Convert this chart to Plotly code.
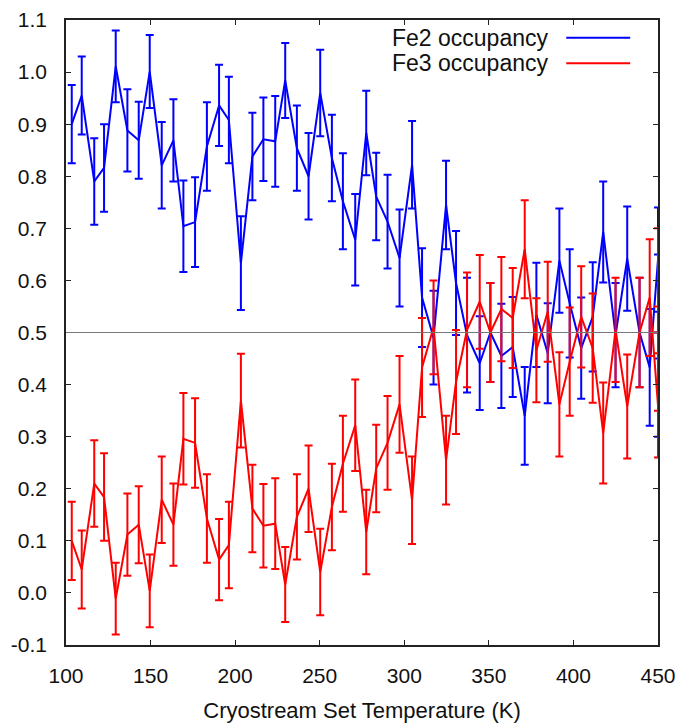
import plotly.graph_objects as go

# Temperature (K)
temperature = [103.4, 109.3, 116.7, 122.5, 129.4, 136.3, 143.0, 149.5, 156.6, 163.5,
               169.4, 176.3, 183.3, 190.5, 196.3, 203.4, 210.2, 216.7, 223.7, 229.6,
               236.5, 243.4, 250.3, 257.2, 263.7, 271.0, 277.5, 283.4, 290.1, 297.2,
               304.6, 310.5, 317.3, 324.7, 330.6, 337.1, 344.6, 350.9, 357.4, 364.1,
               371.2, 378.1, 384.8, 391.7, 397.8, 404.6, 411.4, 417.6, 424.9, 431.8,
               439.1, 445.1, 450.0, 450.0, 450.0]

fe2_occ = [0.900, 0.955, 0.790, 0.816, 1.011, 0.888, 0.869, 1.001, 0.821, 0.869,
           0.704, 0.712, 0.857, 0.936, 0.908, 0.633, 0.838, 0.871, 0.867, 0.984,
           0.854, 0.800, 0.960, 0.835, 0.752, 0.678, 0.883, 0.761, 0.713, 0.643,
           0.822, 0.567, 0.490, 0.745, 0.595, 0.495, 0.441, 0.500, 0.455, 0.472,
           0.340, 0.534, 0.460, 0.638, 0.556, 0.470, 0.530, 0.693, 0.495, 0.642,
           0.500, 0.433, 0.640, 0.400, 0.550]

fe3_occ = [0.100, 0.045, 0.210, 0.184, -0.011, 0.112, 0.131, 0.004, 0.179, 0.131,
           0.296, 0.288, 0.143, 0.064, 0.092, 0.369, 0.162, 0.129, 0.133, 0.016,
           0.146, 0.200, 0.040, 0.165, 0.248, 0.322, 0.117, 0.239, 0.288, 0.362,
           0.178, 0.433, 0.510, 0.255, 0.405, 0.505, 0.559, 0.500, 0.545, 0.528,
           0.660, 0.466, 0.540, 0.362, 0.444, 0.530, 0.470, 0.307, 0.505, 0.358,
           0.500, 0.567, 0.360, 0.600, 0.450]

occ_err = [0.075, 0.075, 0.083, 0.084, 0.069, 0.079, 0.074, 0.070, 0.083, 0.079,
           0.088, 0.086, 0.085, 0.078, 0.083, 0.090, 0.084, 0.080, 0.087, 0.072,
           0.082, 0.083, 0.083, 0.083, 0.092, 0.088, 0.081, 0.084, 0.090, 0.093,
           0.084, 0.095, 0.090, 0.085, 0.100, 0.110, 0.090, 0.095, 0.100, 0.096,
           0.094, 0.100, 0.096, 0.100, 0.104, 0.097, 0.105, 0.097, 0.100, 0.100,
           0.105, 0.112, 0.100, 0.100, 0.100]

x_ticks = [100, 150, 200, 250, 300, 350, 400, 450]
y_ticks = [-0.1, 0.0, 0.1, 0.2, 0.3, 0.4, 0.5, 0.6, 0.7, 0.8, 0.9, 1.0, 1.1]
y_tick_labels = ["-0.1", "0.0", "0.1", "0.2", "0.3", "0.4", "0.5", "0.6",
                 "0.7", "0.8", "0.9", "1.0", "1.1"]

series_names = ["Fe2 occupancy", "Fe3 occupancy"]
colors = ["#0000ff", "#ff0000"]

FONT = "Liberation Sans, Arial, sans-serif"

fig = go.Figure()
for name, vals, col in zip(series_names, [fe2_occ, fe3_occ], colors):
    fig.add_trace(go.Scatter(
        x=temperature, y=vals, mode="lines", name=name,
        line=dict(color=col, width=2),
        error_y=dict(type="data", array=occ_err, visible=True,
                     color=col, thickness=2, width=4),
        showlegend=False,
    ))

fig.add_hline(y=0.5, line=dict(color="#777777", width=1))

# legend drawn gnuplot-style (text then sample line)
leg_y = [0.9717, 0.9307]
for name, col, yy in zip(series_names, colors, leg_y):
    fig.add_annotation(x=0.8176, y=yy, xref="paper", yref="paper",
                       text=name, showarrow=False, xanchor="right", yanchor="middle",
                       font=dict(family=FONT, size=23, color="#111111"))
    fig.add_shape(type="line", xref="paper", yref="paper",
                  x0=0.845, x1=0.953, y0=yy, y1=yy,
                  line=dict(color=col, width=2))

axis_common = dict(showgrid=False, zeroline=False, showline=True, linecolor="#222222",
                   linewidth=1.5, mirror="ticks", ticks="inside", ticklen=5,
                   tickcolor="#222222", tickwidth=1, automargin=False,
                   tickfont=dict(family=FONT, size=21, color="#111111"))

fig.update_xaxes(range=[100, 450], tickvals=x_ticks, ticklabelstandoff=11,
                 title=dict(text="Cryostream Set Temperature (K)", standoff=17,
                            font=dict(family=FONT, size=22, color="#111111")),
                 **axis_common)
fig.update_yaxes(range=[-0.1, 1.1], tickvals=y_ticks, ticktext=y_tick_labels,
                 ticklabelstandoff=13, **axis_common)

fig.update_layout(width=683, height=723, margin=dict(l=66, r=25, t=20, b=78),
                  plot_bgcolor="white", paper_bgcolor="white",
                  font=dict(family=FONT))

fig.write_html("out.html")
